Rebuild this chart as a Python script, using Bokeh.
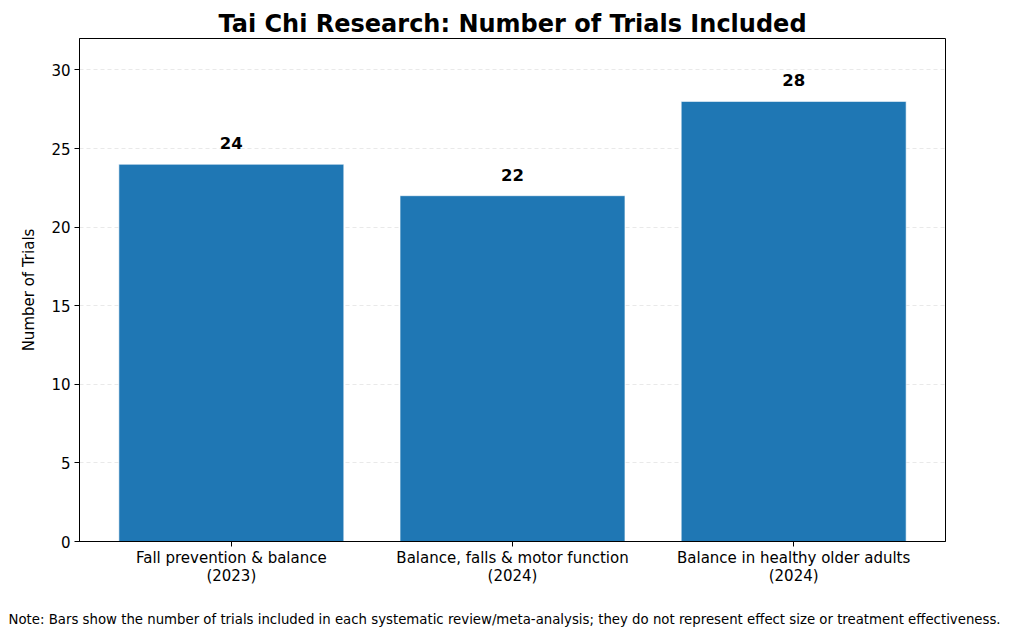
from bokeh.embed import file_html
from bokeh.resources import INLINE
from bokeh.models import ColumnDataSource, FixedTicker, Range1d, Title
from bokeh.plotting import figure
from bokeh.core.properties import value

# Data
reviews = [
    "Fall prevention & balance\n(2023)",
    "Balance, falls & motor function\n(2024)",
    "Balance in healthy older adults\n(2024)",
]
trials = [24, 22, 28]
y_ticks = [0, 5, 10, 15, 20, 25, 30]
NOTE = ("Note: Bars show the number of trials included in each systematic "
        "review/meta-analysis; they do not represent effect size or treatment effectiveness.")

FONT = "DejaVu Sans"
BLUE = "#1f77b4"

pos = list(range(len(reviews)))
source = ColumnDataSource(dict(
    x=pos,
    trials=trials,
    label=[str(t) for t in trials],
))

p = figure(
    width=1008, height=635,
    x_range=Range1d(-0.54, 2.54), y_range=Range1d(0, 32),
    output_backend="svg", toolbar_location=None,
    min_border_left=79, min_border_right=63,
    min_border_top=38, min_border_bottom=94,
)

p.vbar(x="x", top="trials", width=0.8, source=source,
       fill_color=BLUE, line_color="white", line_width=0.6)

p.text(x="x", y="trials", text="label", source=source,
       text_align="center", text_baseline="middle", y_offset=-21,
       text_font=value(FONT), text_font_size="16.5px",
       text_font_style="bold", text_color="black")

# title
p.title.text = "Tai Chi Research: Number of Trials Included"
p.title.align = "center"
p.title.text_font = FONT
p.title.text_font_size = "24px"
p.title.text_font_style = "bold"
p.title.text_color = "black"
p.title.standoff = 2

# note below, pinned left so it stays inside the canvas
note = Title(
    text=NOTE, align="left", offset=-71,
    text_font=FONT, text_font_size="13.3px", text_line_height=1.0,
    text_font_style="normal", text_color="black", standoff=4,
)
p.add_layout(note, "below")

# axes
p.xaxis.ticker = FixedTicker(ticks=pos)
p.xaxis.major_label_overrides = {i: r for i, r in zip(pos, reviews)}
p.yaxis.ticker = FixedTicker(ticks=y_ticks)
p.yaxis.axis_label = "Number of Trials"

for ax in (p.xaxis, p.yaxis):
    ax.major_label_text_font = FONT
    ax.major_label_text_font_size = "15px"
    ax.major_label_text_color = "black"
    ax.major_label_text_line_height = 1.0
    ax.axis_label_text_font = FONT
    ax.axis_label_text_font_size = "15px"
    ax.axis_label_text_font_style = "normal"
    ax.axis_label_text_color = "black"
    ax.axis_line_color = "black"
    ax.major_tick_line_color = "black"
    ax.major_tick_out = 5
    ax.major_tick_in = 0
    ax.minor_tick_line_color = None
    ax.major_label_standoff = 4

# blank x-axis label only adds the gap between tick labels and the note
p.xaxis.axis_label = " "
p.xaxis.axis_label_text_font_size = "1px"
p.xaxis.axis_label_standoff = 16
p.xaxis.major_label_standoff = 2
p.yaxis.axis_label_standoff = 10

p.xgrid.grid_line_color = None
p.ygrid.grid_line_color = "#b0b0b0"
p.ygrid.grid_line_alpha = 0.35
p.ygrid.grid_line_dash = "4 3"
p.ygrid.grid_line_width = 0.8

p.outline_line_color = "black"
p.outline_line_alpha = 1.0
p.background_fill_color = "white"
p.border_fill_color = "white"

open("out.html", "w").write(file_html(p, INLINE))
